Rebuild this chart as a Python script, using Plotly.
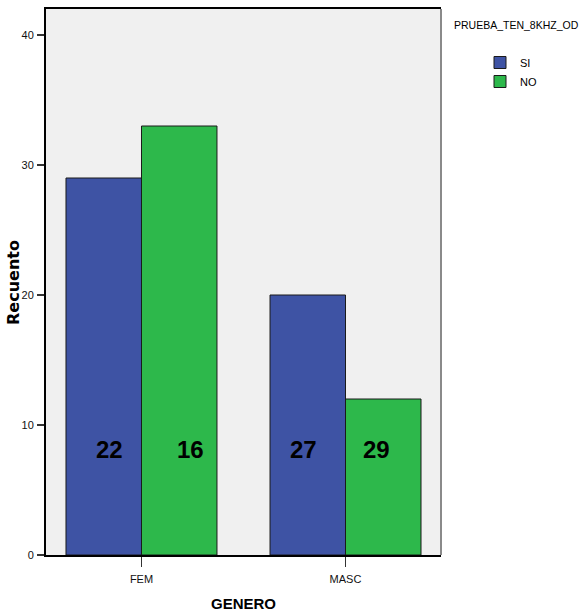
import plotly.graph_objects as go

categories = ["FEM", "MASC"]
series_names = ["SI", "NO"]
si_values = [29, 20]
no_values = [33, 12]
inner_labels = [["22", "27"], ["16", "29"]]  # per series, per category
label_level = 8.15
y_ticks = [0, 10, 20, 30, 40]

blue = "#3E53A4"
green = "#2DB84B"
sans = "Liberation Sans, Arial, sans-serif"

L, R, T, B = 46, 141, 9, 58
W, H = 582, 613
pw, ph = W - L - R, H - T - B

fig = go.Figure()
for name, vals, col in [(series_names[0], si_values, blue), (series_names[1], no_values, green)]:
    fig.add_trace(go.Bar(
        x=categories, y=vals, name=name,
        marker=dict(color=col, line=dict(color="#1a1a1a", width=1)),
    ))

bar_half = 0.185
shifts = [[6, -4], [11, -7]]
for s, labs in enumerate(inner_labels):
    for c, lab in enumerate(labs):
        xpos = c + (-bar_half if s == 0 else bar_half)
        fig.add_annotation(
            x=xpos, y=label_level, xref="x", yref="y", text="<b>" + lab + "</b>",
            showarrow=False, xshift=shifts[s][c],
            font=dict(family=sans, size=24, color="black"),
        )

# legend title
fig.add_annotation(
    x=(452 - L) / pw, y=(H - B - 25) / ph, xref="paper", yref="paper",
    text="PRUEBA_TEN_8KHZ_OD", showarrow=False,
    xanchor="left", yanchor="middle",
    font=dict(family=sans, size=10.5, color="black"),
)

# y axis title
fig.add_annotation(
    x=(13 - L) / pw, y=(H - B - 283) / ph, xref="paper", yref="paper",
    text="<b>Recuento</b>", showarrow=False, textangle=-90,
    xanchor="center", yanchor="middle",
    font=dict(family="DejaVu Sans, sans-serif", size=16, color="black"),
)

# right border (gray)
fig.add_shape(type="line", xref="paper", yref="paper", x0=1, x1=1, y0=0, y1=1,
              line=dict(color="#8a8a8a", width=2))

fig.update_layout(
    width=W, height=H,
    margin=dict(l=L, r=R, t=T, b=B, autoexpand=False),
    paper_bgcolor="white",
    plot_bgcolor="#F0F0F0",
    barmode="group",
    bargap=0.26,
    bargroupgap=0,
    font=dict(family=sans, size=12, color="#222"),
    showlegend=True,
    legend=dict(
        x=(480 - L) / pw, y=(H - B - 48) / ph, xanchor="left", yanchor="top",
        font=dict(family=sans, size=11, color="black"),
        bgcolor="rgba(0,0,0,0)", tracegroupgap=0,
        itemclick=False,
    ),
    xaxis=dict(
        range=[-0.468, 1.468],
        showline=True, linecolor="black", linewidth=2, mirror=True,
        ticks="outside", ticklen=10, tickcolor="#333", tickwidth=1,
        tickfont=dict(family=sans, size=11, color="#111"),
        ticklabelstandoff=3,
        showgrid=False, zeroline=False,
        title=dict(text="<b>GENERO</b>", standoff=14,
                   font=dict(family=sans, size=15, color="black")),
    ),
    yaxis=dict(
        range=[0, 42],
        tickvals=y_ticks,
        showline=True, linecolor="black", linewidth=2, mirror=False,
        ticks="outside", ticklen=7, tickcolor="#333", tickwidth=2,
        tickfont=dict(family=sans, size=11, color="#111"),
        ticklabelstandoff=1,
        showgrid=False, zeroline=False,
    ),
)

fig.write_html("out.html", config={"displayModeBar": False},
               post_script="document.body.style.margin='0';")
